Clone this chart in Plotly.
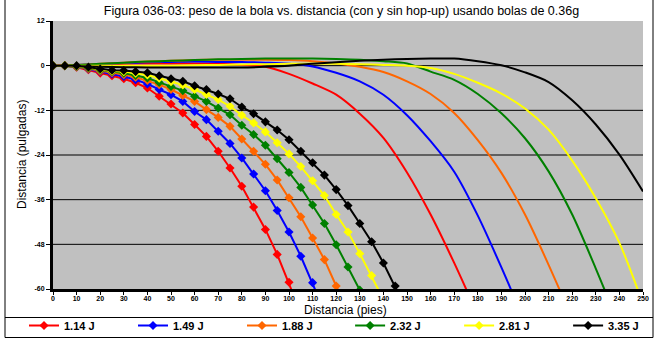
import plotly.graph_objects as go

# Distances (ft) for the plain-shot series (one reading every 5 ft)
dist_plain = list(range(0, 155, 5))
# Distances (ft) for the hop-up series (one reading every 10 ft)
dist_hop = list(range(0, 260, 10))

energies = ["1.14 J", "1.49 J", "1.88 J", "2.32 J", "2.81 J", "3.35 J"]
colors = ["#FF0000", "#0000FF", "#FF6600", "#008000", "#FFFF00", "#000000"]

# Drop (inches) without hop-up
drop_114 = [0, 0, -0.4, -1.1, -2.0, -2.7, -3.5, -4.6, -6.0, -8.2, -10.3, -12.7, -15.8, -19.0,
            -23.0, -27.5, -32.4, -38.0, -44.0, -50.7, -58.2, -66.5]
drop_149 = [0, 0, -0.3, -0.9, -1.6, -2.2, -2.9, -3.8, -4.9, -6.4, -7.8, -9.6, -12.3, -14.5,
            -17.6, -20.9, -24.8, -29.1, -33.6, -38.9, -44.7, -51.2, -58.3, -66.0]
drop_188 = [0, 0, -0.3, -0.8, -1.5, -1.9, -2.4, -3.1, -4.0, -5.1, -6.4, -8.0, -9.6, -11.8,
            -13.9, -16.3, -19.7, -23.0, -26.5, -30.7, -35.5, -40.6, -46.3, -52.1, -59.2, -66.5]
drop_232 = [0, 0, -0.2, -0.6, -1.2, -1.6, -2.0, -2.6, -3.3, -4.5, -5.6, -6.7, -8.2, -9.6,
            -11.4, -13.2, -16.0, -18.5, -21.4, -25.0, -28.7, -32.7, -37.4, -42.4, -48.1, -54.1,
            -60.3, -67.0]
drop_281 = [0, 0, -0.1, -0.5, -1.0, -1.4, -1.6, -2.0, -2.5, -3.4, -4.3, -5.2, -6.4, -7.7,
            -9.1, -10.9, -13.3, -15.4, -17.8, -20.7, -23.7, -27.1, -30.9, -34.9, -40.0, -44.7,
            -50.5, -56.4, -62.8]
drop_335 = [0, 0, 0, -0.4, -0.9, -1.2, -1.3, -1.6, -1.9, -2.7, -3.5, -4.2, -5.4, -6.4,
            -7.6, -8.9, -11.1, -12.9, -15.1, -17.3, -19.9, -23.0, -26.1, -29.4, -33.3, -37.6,
            -42.4, -47.3, -53.0, -59.2, -66.0]

# Drop (inches) with hop-up
hop_114 = [0, 0.1, 0.3, 0.5, 0.6, 0.6, 0.6, 0.5, 0.2, -0.3, -2.2, -4.8, -7.8, -12.9,
           -19.4, -28.7, -40.0, -53.0, -67.0]
hop_149 = [0, 0.2, 0.4, 0.7, 0.9, 1.0, 1.1, 1.0, 1.0, 0.8, 0.5, -0.2, -1.9, -4.2, -7.8,
           -13.3, -20.3, -28.5, -40.3, -54.2, -69.0]
hop_188 = [0, 0.2, 0.5, 0.8, 1.1, 1.3, 1.5, 1.6, 1.6, 1.6, 1.5, 1.2, 0.6, -0.3, -1.7,
           -4.2, -7.6, -12.7, -20.0, -28.8, -40.0, -53.5, -68.0]
hop_232 = [0, 0.2, 0.5, 0.8, 1.1, 1.3, 1.5, 1.7, 1.8, 1.9, 1.9, 1.9, 1.8, 1.6, 1.2, 0.6,
           -1.6, -3.8, -7.6, -12.8, -19.5, -28.4, -40.0, -54.5, -70.0]
hop_281 = [0, 0, 0, 0, 0, 0, 0.1, 0.2, 0.3, 0.4, 0.5, 0.6, 0.5, 0.4, 0.2, 0, -0.6, -2.2,
           -4.6, -7.5, -11.5, -17.2, -25.5, -35.6, -47.6, -64.0]
hop_335 = [0, -0.1, -0.3, -0.4, -0.5, -0.5, -0.5, -0.5, -0.5, -0.3, 0.0, 0.5, 0.9, 1.3,
           1.6, 1.8, 1.9, 1.9, 1.2, 0.1, -1.8, -4.4, -9.3, -15.8, -23.9, -33.8]

plain_series = [drop_114, drop_149, drop_188, drop_232, drop_281, drop_335]
hop_series = [hop_114, hop_149, hop_188, hop_232, hop_281, hop_335]

x_ticks = list(range(0, 260, 10))
y_ticks = [-60, -48, -36, -24, -12, 0, 12]

FONT = "Liberation Sans, Arial, sans-serif"

fig = go.Figure()

# Hop-up curves: plain lines, not listed in the legend
for ys, col in zip(hop_series, colors):
    fig.add_trace(go.Scatter(
        x=dist_hop[:len(ys)], y=ys, mode="lines",
        line=dict(color=col, width=2, shape="spline", smoothing=0.8),
        showlegend=False, hoverinfo="skip",
    ))

# Curves without hop-up: lines with diamond markers; the legend row is split
# into two legend boxes so it stays on a single line
for i, (ys, col, name) in enumerate(zip(plain_series, colors, energies)):
    fig.add_trace(go.Scatter(
        x=dist_plain[:len(ys)], y=ys, mode="lines+markers", name=name,
        line=dict(color=col, width=2),
        marker=dict(symbol="diamond", size=7, color=col),
        legend="legend" if i < 3 else "legend2",
    ))

# plot-area geometry in pixels
L, R, T, B = 53, 15, 21, 52
W, H = 658, 341
pw, ph = W - L - R, H - T - B


def px_x(p):
    return (p - L) / pw


def px_y(p):
    return (H - B - p) / ph


shapes = []
# horizontal grid lines between the axis ends
for v in y_ticks[1:-1]:
    shapes.append(dict(type="line", xref="paper", yref="y", x0=0, x1=1, y0=v, y1=v,
                       line=dict(color="black", width=1), layer="below"))
# outer chart frame and legend box
frame = dict(color="black", width=1)
shapes += [
    dict(type="line", xref="paper", yref="paper", x0=px_x(5), x1=px_x(5), y0=px_y(0), y1=px_y(337.5), line=frame),
    dict(type="line", xref="paper", yref="paper", x0=px_x(653), x1=px_x(653), y0=px_y(0), y1=px_y(337.5), line=frame),
    dict(type="line", xref="paper", yref="paper", x0=px_x(5), x1=px_x(653), y0=px_y(337.5), y1=px_y(337.5), line=frame),
    dict(type="line", xref="paper", yref="paper", x0=px_x(5), x1=px_x(653), y0=px_y(317.5), y1=px_y(317.5), line=frame),
]

# axis titles placed as annotations for exact positioning
annotations = [
    dict(text="Distancia (pies)", xref="paper", yref="paper", x=px_x(345), y=px_y(310),
         xanchor="center", yanchor="middle", showarrow=False,
         font=dict(size=12, family=FONT)),
    dict(text="Distancia (pulgadas)", xref="paper", yref="paper", x=px_x(22), y=px_y(155),
         xanchor="center", yanchor="middle", showarrow=False, textangle=-90,
         font=dict(size=12, family=FONT)),
]

legend_common = dict(
    orientation="h", xref="container", yref="container",
    xanchor="left", y=1 - 311 / H, yanchor="top",
    entrywidth=64, entrywidthmode="pixels", itemwidth=30,
    font=dict(size=11, family=FONT, weight="bold"),
    bgcolor="rgba(0,0,0,0)", borderwidth=0, tracegroupgap=0,
)

fig.update_layout(
    width=W, height=H,
    margin=dict(l=L, r=R, t=T, b=B, pad=0, autoexpand=False),
    paper_bgcolor="white",
    plot_bgcolor="#C0C0C0",
    font=dict(family=FONT, color="black"),
    title=dict(
        text="Figura 036-03: peso de la bola vs. distancia (con y sin hop-up) usando bolas de 0.36g",
        x=341.5 / W, xanchor="center", y=1 - 11 / H, yanchor="middle",
        font=dict(size=12.5, family=FONT),
    ),
    xaxis=dict(
        range=[0, 250], tickvals=x_ticks, ticktext=[str(v) for v in x_ticks],
        showgrid=False, zeroline=False,
        showline=True, linewidth=3, linecolor="black",
        ticks="outside", ticklen=3, tickwidth=1, tickcolor="black",
        ticklabelstandoff=-2,
        tickfont=dict(size=7, family=FONT, weight="bold"),
        automargin=False,
    ),
    yaxis=dict(
        range=[-60, 12], tickvals=y_ticks, ticktext=[str(v) for v in y_ticks],
        showgrid=False, zeroline=False,
        showline=True, linewidth=3, linecolor="black",
        ticks="outside", ticklen=4, tickwidth=1, tickcolor="black",
        tickfont=dict(size=7, family=FONT, weight="bold"),
        automargin=False,
    ),
    legend=dict(legend_common, x=24 / W),
    legend2=dict(legend_common, x=(24 + 3 * 108.7) / W),
    shapes=shapes,
    annotations=annotations,
    showlegend=True,
)

fig.write_html("out.html")
